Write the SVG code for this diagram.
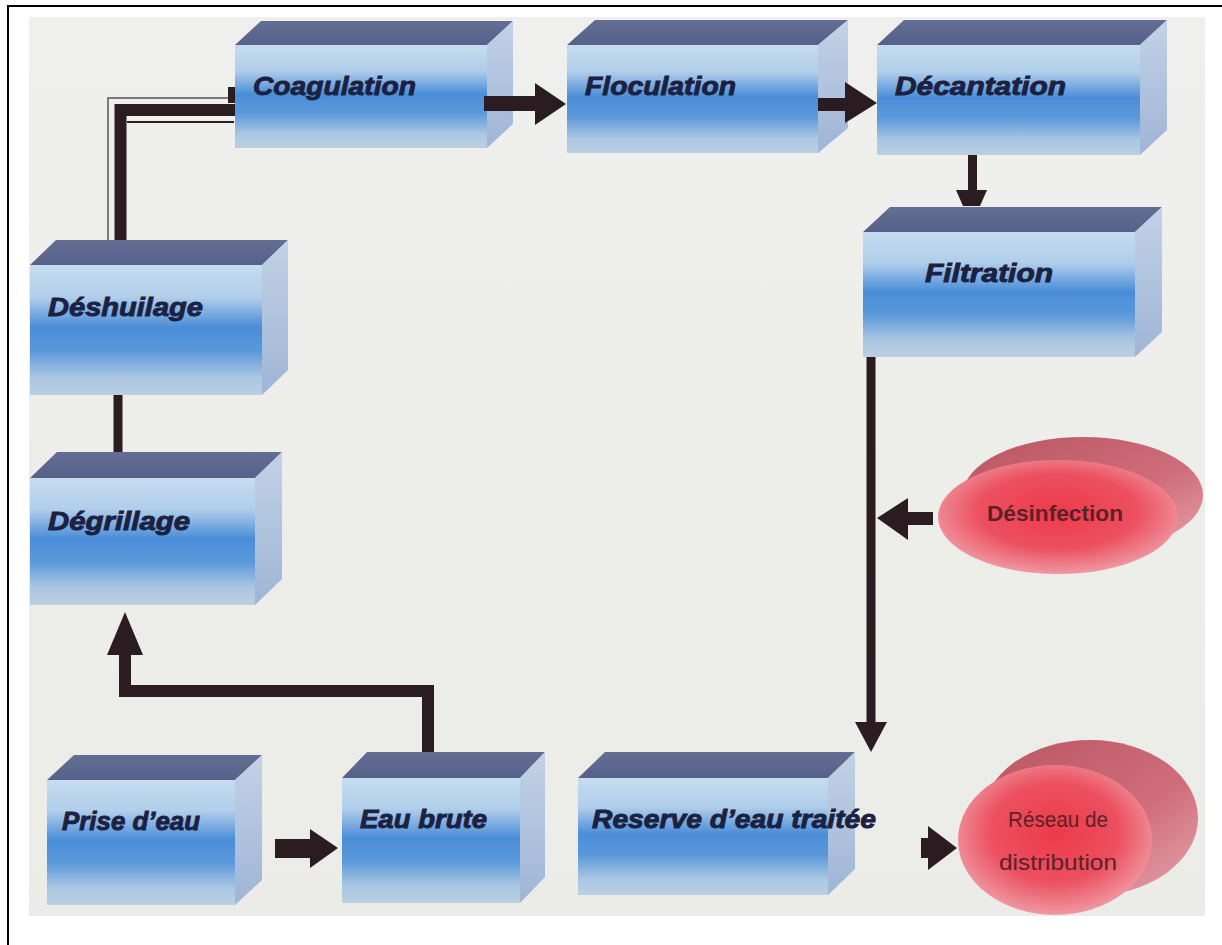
<svg xmlns="http://www.w3.org/2000/svg" width="1222" height="945" viewBox="0 0 1222 945">
<defs>
<linearGradient id="front" x1="0" y1="0" x2="0" y2="1">
<stop offset="0" stop-color="#c6dcef"/>
<stop offset="0.25" stop-color="#b0cdea"/>
<stop offset="0.48" stop-color="#4a8dd8"/>
<stop offset="0.66" stop-color="#5a98da"/>
<stop offset="0.86" stop-color="#a9c6e2"/>
<stop offset="1" stop-color="#bccfe2"/>
</linearGradient>
<linearGradient id="side" x1="0" y1="0" x2="0" y2="1">
<stop offset="0" stop-color="#c2d2e6"/>
<stop offset="1" stop-color="#9fb5d6"/>
</linearGradient>
<linearGradient id="top" x1="0" y1="0" x2="0" y2="1">
<stop offset="0" stop-color="#646e94"/>
<stop offset="1" stop-color="#56618a"/>
</linearGradient>
<radialGradient id="redFront" cx="0.5" cy="0.45" r="0.6">
<stop offset="0" stop-color="#ee3a4a"/>
<stop offset="0.55" stop-color="#ec5060"/>
<stop offset="1" stop-color="#f0a8b0"/>
</radialGradient>
<linearGradient id="redBack" x1="0" y1="0" x2="1" y2="1">
<stop offset="0" stop-color="#b85662"/>
<stop offset="0.6" stop-color="#cf6e7a"/>
<stop offset="1" stop-color="#e6a6ae"/>
</linearGradient>
<linearGradient id="bg" x1="0" y1="0" x2="0" y2="1">
<stop offset="0" stop-color="#efefed"/>
<stop offset="1" stop-color="#ebebe8"/>
</linearGradient>
</defs>
<style>
.top{fill:url(#top)}
.side{fill:url(#side)}
.front{fill:url(#front)}
.lbl{font-family:"Liberation Sans",Arial,sans-serif;font-weight:bold;font-style:italic;fill:#1b2140;stroke:#1b2140;stroke-width:0.9px;font-size:26px}
.rlbl{font-family:"Liberation Sans",Arial,sans-serif;fill:#5a2228;font-size:22px;text-anchor:middle}
.arr{fill:#2b1c22}
.ln{stroke:#2b1c22;fill:none}
</style>
<rect x="0" y="0" width="1222" height="945" fill="#ffffff"/>
<rect x="8" y="6" width="1230" height="950" fill="none" stroke="#000" stroke-width="2"/>
<rect x="29" y="17" width="1176" height="899" fill="url(#bg)"/>

<g id="coagulation">
<polygon class="top" points="235,45 261,21 513,21 487,45"/>
<polygon class="side" points="487,45 513,21 513,124 487,148"/>
<rect class="front" x="235" y="45" width="252" height="103"/>
<text class="lbl" x="253" y="95" textLength="163" lengthAdjust="spacingAndGlyphs">Coagulation</text>
</g>

<g id="floculation">
<polygon class="top" points="567,45 595,20 848,20 818,45"/>
<polygon class="side" points="818,45 848,20 848,128 818,153"/>
<rect class="front" x="567" y="45" width="251" height="108"/>
<text class="lbl" x="585" y="95" textLength="151" lengthAdjust="spacingAndGlyphs">Floculation</text>
</g>

<g id="decantation">
<polygon class="top" points="877,45 904,20 1167,20 1140,45"/>
<polygon class="side" points="1140,45 1167,20 1167,130 1140,155"/>
<rect class="front" x="877" y="45" width="263" height="110"/>
<text class="lbl" x="895" y="95" textLength="171" lengthAdjust="spacingAndGlyphs">Décantation</text>
</g>

<g id="filtration">
<polygon class="top" points="863,232 890,207 1162,207 1135,232"/>
<polygon class="side" points="1135,232 1162,207 1162,332 1135,357"/>
<rect class="front" x="863" y="232" width="272" height="125"/>
<text class="lbl" x="925" y="282" textLength="128" lengthAdjust="spacingAndGlyphs">Filtration</text>
</g>

<g id="deshuilage">
<polygon class="top" points="30,265 56,240 288,240 262,265"/>
<polygon class="side" points="262,265 288,240 288,370 262,395"/>
<rect class="front" x="30" y="265" width="232" height="130"/>
<text class="lbl" x="48" y="316" textLength="155" lengthAdjust="spacingAndGlyphs">Déshuilage</text>
</g>

<g id="degrillage">
<polygon class="top" points="30,478 57,452 282,452 255,478"/>
<polygon class="side" points="255,478 282,452 282,579 255,605"/>
<rect class="front" x="30" y="478" width="225" height="127"/>
<text class="lbl" x="48" y="530" textLength="142" lengthAdjust="spacingAndGlyphs">Dégrillage</text>
</g>

<g id="prise-eau">
<polygon class="top" points="47,780 74,755 262,755 235,780"/>
<polygon class="side" points="235,780 262,755 262,880 235,905"/>
<rect class="front" x="47" y="780" width="188" height="125"/>
<text class="lbl" x="62" y="830" textLength="138" lengthAdjust="spacingAndGlyphs">Prise d’eau</text>
</g>

<g id="eau-brute">
<polygon class="top" points="342,778 367,752 545,752 520,778"/>
<polygon class="side" points="520,778 545,752 545,877 520,903"/>
<rect class="front" x="342" y="778" width="178" height="125"/>
<text class="lbl" x="360" y="828" textLength="127" lengthAdjust="spacingAndGlyphs">Eau brute</text>
</g>

<g id="reserve">
<polygon class="top" points="578,778 605,752 855,752 828,778"/>
<polygon class="side" points="828,778 855,752 855,869 828,895"/>
<rect class="front" x="578" y="778" width="250" height="117"/>
<text class="lbl" x="592" y="828" textLength="284" lengthAdjust="spacingAndGlyphs">Reserve d’eau traitée</text>
</g>

<g id="desinfection">
<ellipse cx="1083" cy="495" rx="120" ry="58" fill="url(#redBack)"/>
<ellipse cx="1058" cy="517" rx="120" ry="57" fill="url(#redFront)"/>
<text class="rlbl" x="1055" y="521" font-weight="bold" textLength="136" lengthAdjust="spacingAndGlyphs">Désinfection</text>
</g>

<g id="reseau">
<ellipse cx="1090" cy="818" rx="108" ry="78" fill="url(#redBack)"/>
<ellipse cx="1055" cy="840" rx="97" ry="75" fill="url(#redFront)"/>
<text class="rlbl" x="1058" y="827" font-size="24" textLength="100" lengthAdjust="spacingAndGlyphs">Réseau de</text>
<text class="rlbl" x="1058" y="870" font-size="24" textLength="118" lengthAdjust="spacingAndGlyphs">distribution</text>
</g>

<g id="connectors">
<polygon class="arr" points="275,839 310,839 310,829 338,848 310,868 310,858 275,858"/>
<path class="ln" stroke-width="12" d="M428,752 V691 H125 V652"/>
<polygon class="arr" points="107,655 143,655 125,612"/>
<path class="ln" stroke-width="9" d="M118,395 V452"/>
<path fill="none" stroke="#555" stroke-width="1.5" d="M108,240 V98 H229"/>
<path class="ln" stroke-width="12" d="M120.5,240 V110 H235"/>
<path class="ln" stroke-width="2" d="M127,122 H234"/>
<rect class="arr" x="228" y="87" width="7" height="16"/>
<polygon class="arr" points="484,96 535,96 535,83 566,104 535,125 535,111 484,111"/>
<polygon class="arr" points="818,98 845,98 845,82 877,103 845,123 845,111 818,111"/>
<rect class="arr" x="968" y="155" width="9" height="35"/>
<polygon class="arr" points="956,190 987,190 980,206 963,206"/>
<path class="ln" stroke-width="9" d="M871,357 V726"/>
<polygon class="arr" points="855,722 887,722 871,752"/>
<polygon class="arr" points="933,512 908,512 908,498 877,518 908,540 908,525 933,525"/>
<polygon class="arr" points="921,838 928,838 928,826 957,848 928,870 928,858 921,858"/>
</g>
</svg>
